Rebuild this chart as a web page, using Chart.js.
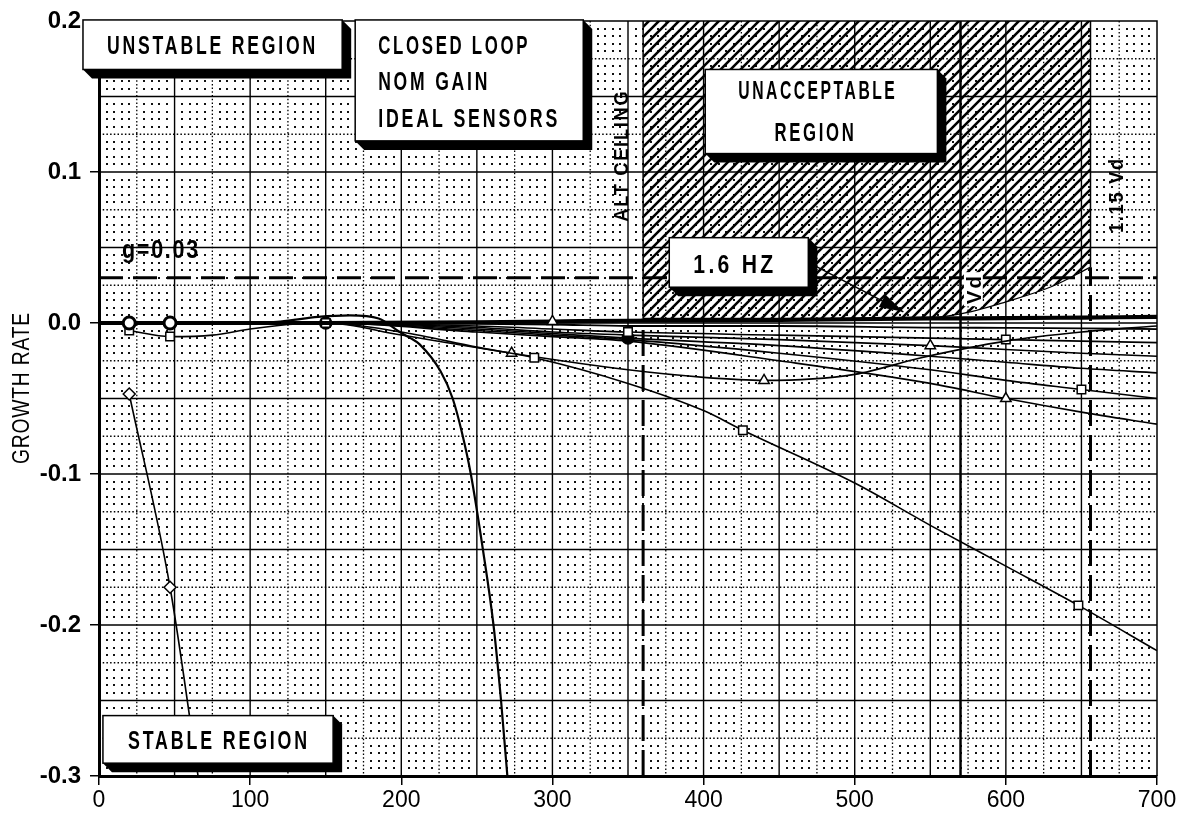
<!DOCTYPE html>
<html>
<head>
<meta charset="utf-8">
<script src="https://cdn.jsdelivr.net/npm/chart.js"></script>
<style>
  html, body { margin: 0; padding: 0; background: #fff; }
  #wrap { width: 1193px; height: 815px; position: relative; }
</style>
</head>
<body>
<div id="wrap"><canvas id="growth"></canvas></div>
<script>
// axis ticks
const velTicks = [0, 100, 200, 300, 400, 500, 600, 700];
const rateTicks = [-0.3, -0.2, -0.1, 0.0, 0.1, 0.2];

// curves: velocity -> growth rate, marks = velocities carrying a symbol
const velA = [20, 47, 67];
const rateA = [-0.047, -0.175, -0.31];
const markA = [20, 47];

const velB = [20, 47, 90, 120, 145, 166, 185, 199, 206, 212, 226, 234, 240, 246, 254, 261, 266, 271];
const rateB = [0, 0, 0, 0.001, 0.004, 0.005, 0.003, -0.006, -0.010, -0.014, -0.032, -0.05, -0.072, -0.1, -0.15, -0.2, -0.25, -0.31];
const markB = [20, 47];

const velC1 = [20, 47, 75, 100, 125, 150, 200, 250, 288, 350, 400, 426, 500, 550, 600, 648, 700];
const rateC1 = [-0.005, -0.009, -0.008, -0.004, -0.001, 0, -0.006, -0.016, -0.023, -0.040, -0.058, -0.071, -0.106, -0.134, -0.161, -0.187, -0.217];
const markC1 = [20, 47, 288, 426, 648];

const velC2 = [20, 150, 200, 273, 350, 400, 440, 500, 544, 600, 650, 700];
const rateC2 = [0, 0, -0.008, -0.020, -0.031, -0.036, -0.038, -0.034, -0.023, -0.012, -0.006, -0.002];
const markC2 = [273, 440];

const fanVel = [0, 150, 250, 300, 350, 450, 550, 600, 650, 700];
const fan1 = [0, 0, 0.0005, 0.001, 0.0015, 0.002, 0.003, 0.0032, 0.0036, 0.004];
const fan2 = [0, 0, -0.0005, -0.001, -0.002, -0.002, -0.003, -0.0032, -0.0035, -0.004];
const fan3 = [0, 0, -0.002, -0.004, -0.006, -0.008, -0.010, -0.011, -0.012, -0.013];
const fan4 = [0, 0, -0.003, -0.006, -0.008, -0.011, -0.015, -0.0175, -0.020, -0.022];
const fan5 = [0, 0, -0.004, -0.007, -0.010, -0.015, -0.022, -0.026, -0.030, -0.033];
const fan6 = [0, 0, -0.005, -0.008, -0.011, -0.020, -0.031, -0.038, -0.044, -0.050];
const fan7 = [0, 0, -0.006, -0.009, -0.012, -0.025, -0.040, -0.050, -0.059, -0.067];
const fanMarks = [[300], [150], [350, 600], [550], [150, 350], [650], [600]];

// limits
const gLimit = 0.03;
const altCeiling = 360;
const vd = 570;
const vd115 = 656;
const hatchVel = [360, 540, 570, 600, 630, 656];
const hatchRate = [0.003, 0.003, 0.006, 0.014, 0.024, 0.037];

const FONT = '"Liberation Sans", Arial, sans-serif';

function pts(vel, rate) { return vel.map((v, i) => ({ x: v, y: rate[i] })); }

function curve(vel, rate, marks, style, width, filled) {
  return {
    data: pts(vel, rate),
    borderColor: '#000',
    borderWidth: width,
    pointStyle: style,
    pointRadius: c => (c.raw && marks.includes(c.raw.x)) ? 6 : 0,
    pointBackgroundColor: filled ? '#000' : '#fff',
    pointBorderColor: '#000',
    pointBorderWidth: style === 'circle' && !filled ? 3 : 1.5,
    cubicInterpolationMode: 'monotone',
    fill: false,
    order: 1
  };
}

function makeHatch() {
  const c = document.createElement('canvas');
  c.width = c.height = 10;
  const g = c.getContext('2d');
  g.strokeStyle = '#000';
  g.lineWidth = 2.6;
  g.beginPath();
  g.moveTo(-2, 12); g.lineTo(12, -2);
  g.moveTo(-2, 2); g.lineTo(2, -2);
  g.moveTo(8, 12); g.lineTo(12, 8);
  g.stroke();
  return g.createPattern(c, 'repeat');
}

function vline(v, splitAt, dashBelow, wBelow, wAbove) {
  return {
    data: [{ x: v, y: -0.3 }, { x: v, y: splitAt }, { x: v, y: 0.2 }],
    borderColor: '#000',
    borderWidth: wBelow,
    pointRadius: 0,
    tension: 0,
    fill: false,
    order: 5,
    segment: {
      borderDash: c => c.p0.parsed.y < splitAt - 1e-9 ? dashBelow : [],
      borderWidth: c => c.p0.parsed.y < splitAt - 1e-9 ? wBelow : wAbove
    }
  };
}

const datasets = [
  {
    data: pts(hatchVel, hatchRate),
    borderColor: '#000', borderWidth: 1.2, pointRadius: 0,
    backgroundColor: makeHatch(), fill: 'end',
    cubicInterpolationMode: 'monotone', order: 10
  },
  {
    data: [{ x: 0, y: gLimit }, { x: 700, y: gLimit }],
    borderColor: '#000', borderWidth: 3, borderDash: [24, 10],
    pointRadius: 0, fill: false, order: 5
  },
  vline(altCeiling, hatchRate[0], [26, 9], 3, 1.5),
  vline(vd, -0.3, [], 2.5, 2.5),
  vline(vd115, hatchRate[hatchRate.length - 1], [26, 9], 3, 1.5),
  curve(velA, rateA, markA, 'rectRot', 1.6, false),
  curve(velB, rateB, markB, 'circle', 2.2, false),
  curve(velC1, rateC1, markC1, 'rect', 1.6, false),
  curve(velC2, rateC2, markC2, 'triangle', 1.6, false),
  curve(fanVel, fan1, fanMarks[0], 'triangle', 4.2, false),
  curve(fanVel, fan2, fanMarks[1], 'rect', 1.8, false),
  curve(fanVel, fan3, fanMarks[2], 'rect', 1.6, false),
  curve(fanVel, fan4, fanMarks[3], 'triangle', 1.6, false),
  curve(fanVel, fan5, fanMarks[4], 'circle', 1.6, true),
  curve(fanVel, fan6, fanMarks[5], 'rect', 1.6, false),
  curve(fanVel, fan7, fanMarks[6], 'triangle', 1.6, false)
];

// annotation boxes (data coords for corners/anchors, px widths for text)
const boxes = [
  { x1: -10.6, y1: 0.2007, x2: 160.9, y2: 0.1679,
    text: [['UNSTABLE REGION', 75.1, 0.1843, 211, 'center']] },
  { x1: 169.5, y1: 0.2007, x2: 320.4, y2: 0.1206,
    text: [['CLOSED LOOP', 184.7, 0.1843, 152, 'left'],
           ['NOM GAIN', 184.7, 0.1600, 112, 'left'],
           ['IDEAL SENSORS', 184.7, 0.1358, 182, 'left']] },
  { x1: 401.1, y1: 0.1679, x2: 554.7, y2: 0.1122,
    text: [['UNACCEPTABLE', 475.6, 0.1541, 159, 'center'],
           ['REGION', 474.0, 0.1266, 82, 'center']] },
  { x1: 377.3, y1: 0.0565, x2: 469.3, y2: 0.0237,
    text: [['1.6 HZ', 420.7, 0.0394, 83, 'center']], size: 26 },
  { x1: 2.6, y1: -0.2600, x2: 154.9, y2: -0.2915,
    text: [['STABLE REGION', 79.4, -0.2764, 182, 'center']] }
];

const freeText = [
  // text, x, y, length px, size, weight, align, rotation, white backing
  ['g=0.03', 15.2, 0.0493, 78, 25, 'bold', 'left', 0, false],
  ['ALT CEILING', 344.9, 0.1108, 132, 21, 'bold', 'center', -Math.PI / 2, false],
  ['Vd', 578.5, 0.0224, 30, 21, 'bold', 'center', -Math.PI / 2, true],
  ['1.15 Vd', 672.5, 0.0847, 76, 21, 'bold', 'center', -Math.PI / 2, false],
  ['GROWTH RATE', -52.3, -0.0431, 152, 24, 'normal', 'center', -Math.PI / 2, false]
];

const arrowFrom = [469.3, 0.0401];
const arrowTo = [532.2, 0.0074];

function drawLabel(ctx, text, cx, cy, w, size, weight, align, rot, spacing, backing) {
  ctx.save();
  ctx.translate(cx, cy);
  if (rot) ctx.rotate(rot);
  ctx.font = `${weight} ${size}px ${FONT}`;
  if ('letterSpacing' in ctx) ctx.letterSpacing = (spacing || 0) + 'px';
  const sx = w / ctx.measureText(text).width;
  if (backing) {
    ctx.fillStyle = '#fff';
    const x0 = align === 'center' ? -w / 2 : 0;
    ctx.fillRect(x0 - 2, -size * 0.45, w + 4, size * 0.9);
  }
  ctx.scale(sx, 1);
  ctx.textAlign = align;
  ctx.textBaseline = 'alphabetic';
  ctx.fillStyle = '#000';
  ctx.fillText(text, 0, size * 0.358);
  ctx.restore();
}

function shadowBox(ctx, x1, y1, x2, y2, d) {
  ctx.fillStyle = '#000';
  ctx.beginPath();
  ctx.moveTo(x2, y1);
  ctx.lineTo(x2 + d, y1 + d);
  ctx.lineTo(x2 + d, y2 + d);
  ctx.lineTo(x1 + d, y2 + d);
  ctx.lineTo(x1, y2);
  ctx.closePath();
  ctx.fill();
  ctx.fillStyle = '#fff';
  ctx.fillRect(x1, y1, x2 - x1, y2 - y1);
  ctx.strokeStyle = '#000';
  ctx.lineWidth = 1.5;
  ctx.strokeRect(x1, y1, x2 - x1, y2 - y1);
}

const paper = {
  id: 'paper',
  beforeDraw(chart) {
    const ctx = chart.ctx;
    ctx.save();
    ctx.fillStyle = '#fff';
    ctx.fillRect(0, 0, chart.width, chart.height);
    ctx.restore();
  },
  beforeDatasetsDraw(chart) {
    const { ctx, chartArea: a, scales: { x, y } } = chart;
    ctx.save();
    ctx.beginPath();
    ctx.rect(a.left, a.top, a.right - a.left, a.bottom - a.top);
    ctx.clip();
    // dot field every 5 units / 0.005
    ctx.fillStyle = '#111';
    for (let i = 0; i <= 140; i++) {
      if (i % 5 === 0) continue;
      const px = Math.round(x.getPixelForValue(i * 5));
      for (let j = 0; j <= 100; j++) {
        if (j % 5 === 0) continue;
        const py = Math.round(y.getPixelForValue(-0.3 + j * 0.005));
        ctx.fillRect(px - 1, py - 1, 2, 2);
      }
    }
    // dotted lines every 25 / 0.025
    ctx.strokeStyle = '#000';
    ctx.lineWidth = 1.3;
    ctx.setLineDash([1.5, 2.2]);
    ctx.beginPath();
    for (let i = 1; i < 28; i += 2) {
      const px = x.getPixelForValue(i * 25);
      ctx.moveTo(px, a.top); ctx.lineTo(px, a.bottom);
    }
    for (let j = 1; j < 20; j += 2) {
      const py = y.getPixelForValue(-0.3 + j * 0.025);
      ctx.moveTo(a.left, py); ctx.lineTo(a.right, py);
    }
    ctx.stroke();
    // solid lines every 50 / 0.05
    ctx.setLineDash([]);
    ctx.lineWidth = 1.4;
    ctx.beginPath();
    for (let i = 1; i < 14; i++) {
      const px = x.getPixelForValue(i * 50);
      ctx.moveTo(px, a.top); ctx.lineTo(px, a.bottom);
    }
    for (let j = 1; j < 10; j++) {
      const py = y.getPixelForValue(-0.3 + j * 0.05);
      ctx.moveTo(a.left, py); ctx.lineTo(a.right, py);
    }
    ctx.stroke();
    ctx.restore();
    // top and right frame
    ctx.save();
    ctx.strokeStyle = '#000';
    ctx.lineWidth = 1.5;
    ctx.beginPath();
    ctx.moveTo(a.left, a.top); ctx.lineTo(a.right, a.top); ctx.lineTo(a.right, a.bottom);
    ctx.stroke();
    ctx.restore();
  },
  afterDraw(chart) {
    const { ctx, scales: { x, y } } = chart;
    ctx.save();
    // arrow from the 1.6 HZ box
    const ax = x.getPixelForValue(arrowFrom[0]), ay = y.getPixelForValue(arrowFrom[1]);
    const bx = x.getPixelForValue(arrowTo[0]), by = y.getPixelForValue(arrowTo[1]);
    const ang = Math.atan2(by - ay, bx - ax);
    ctx.strokeStyle = '#000';
    ctx.lineWidth = 1.5;
    ctx.beginPath(); ctx.moveTo(ax, ay); ctx.lineTo(bx, by); ctx.stroke();
    ctx.fillStyle = '#000';
    ctx.beginPath();
    ctx.moveTo(bx, by);
    ctx.lineTo(bx - 24 * Math.cos(ang) + 7 * Math.sin(ang), by - 24 * Math.sin(ang) - 7 * Math.cos(ang));
    ctx.lineTo(bx - 24 * Math.cos(ang) - 7 * Math.sin(ang), by - 24 * Math.sin(ang) + 7 * Math.cos(ang));
    ctx.closePath(); ctx.fill();

    boxes.forEach(b => {
      shadowBox(ctx, x.getPixelForValue(b.x1), y.getPixelForValue(b.y1),
        x.getPixelForValue(b.x2), y.getPixelForValue(b.y2), 9);
      b.text.forEach(t => drawLabel(ctx, t[0], x.getPixelForValue(t[1]), y.getPixelForValue(t[2]),
        t[3], b.size || 25, 'bold', t[4], 0, 4, false));
    });
    freeText.forEach(t => drawLabel(ctx, t[0], x.getPixelForValue(t[1]), y.getPixelForValue(t[2]),
      t[3], t[4], t[5], t[6], t[7], t[5] === 'bold' ? 2 : 1, t[8]));
    ctx.restore();
  }
};

new Chart(document.getElementById('growth'), {
  type: 'line',
  data: { datasets },
  options: {
    responsive: true,
    maintainAspectRatio: false,
    animation: false,
    events: [],
    layout: { padding: { top: 13, right: 36, left: 0, bottom: 0 } },
    plugins: { legend: { display: false }, tooltip: { enabled: false } },
    scales: {
      x: {
        type: 'linear', min: 0, max: 700,
        afterBuildTicks: s => { s.ticks = velTicks.map(v => ({ value: v })); },
        afterFit: s => { s.height = 39; },
        grid: { drawOnChartArea: false, color: '#000', lineWidth: 1.5, tickLength: 9 },
        border: { color: '#000', width: 3 },
        ticks: { color: '#000', padding: 4, maxRotation: 0,
          font: { family: FONT, size: 23, weight: 'normal', lineHeight: 1 } }
      },
      y: {
        type: 'linear', min: -0.3, max: 0.2,
        afterBuildTicks: s => { s.ticks = rateTicks.map(v => ({ value: v })); },
        afterFit: s => { s.width = 99; },
        grid: { drawOnChartArea: false, color: '#000', lineWidth: 1.5, tickLength: 9 },
        border: { color: '#000', width: 3 },
        ticks: { color: '#000', padding: 9,
          callback: v => Math.abs(v) < 1e-9 ? '0.0' : v.toFixed(1),
          font: { family: FONT, size: 24, weight: 'bold', lineHeight: 1 } }
      }
    }
  },
  plugins: [paper]
});
</script>
</body>
</html>
